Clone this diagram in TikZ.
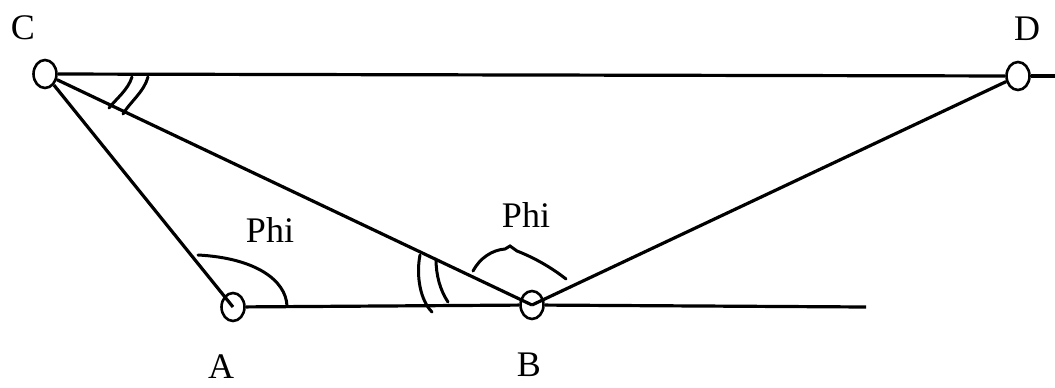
\documentclass[tikz,border=0pt]{standalone}
\usepackage{fontspec}
\setmainfont{Liberation Serif}
\usetikzlibrary{shapes.geometric}
\begin{document}
\begin{tikzpicture}[x=1pt,y=-1pt,
  pin/.style={ellipse,draw,line width=2.6pt,inner sep=0pt,minimum width=23pt,minimum height=28pt},
  lbl/.style={font=\fontsize{36}{40}\selectfont,inner sep=0pt},
  ln/.style={line width=3.2pt},
  mk/.style={line width=3pt,line cap=round}]
\useasboundingbox (0,0) rectangle (1055,388);
% pins
\node[pin] (C) at (45,74) {};
\node[pin] (D) at (1018,76) {};
\node[pin] (A) at (233,307) {};
\node[pin] (B) at (532,305) {};
\coordinate (Dend) at (1055,76);
\coordinate (Bend) at (866,307);
% labels
\node[lbl] (lC) at (23,28) {C};
\node[lbl] (lD) at (1027,29) {D};
\node[lbl] (lA) at (221,367) {A};
\node[lbl] (lB) at (529,365) {B};
\node[lbl] (phiA) at (270,230) {Phi};
\node[lbl] (phiB) at (526,215) {Phi};
% lines
\draw[ln] (C) -- (D);
\draw[ln] (D) -- (Dend);
\draw[ln] (C) -- (A.center);
\draw[ln] (C) -- (B.center);
\draw[ln] (B.center) -- (D);
\draw[ln] (A) -- (B);
\draw[ln] (B) -- (Bend);
% angle marks at C
\draw[mk] (132,77) .. controls (128,90) and (116,99) .. (109,108);
\draw[mk] (148,77) .. controls (144,92) and (130,102) .. (123,114);
% angle mark at A
\draw[mk] (198,255) .. controls (255,258) and (286,280) .. (287,306);
% angle marks at B
\draw[mk] (420,255) .. controls (416,275) and (420,300) .. (432,312);
\draw[mk] (436,259) .. controls (436,275) and (440,290) .. (448,302);
% angle mark Phi at B
\draw[mk] (473,271) .. controls (480,258) and (492,250) .. (505,249) -- (510,246) -- (517,251) .. controls (535,258) and (552,268) .. (566,279);
\end{tikzpicture}
\end{document}
